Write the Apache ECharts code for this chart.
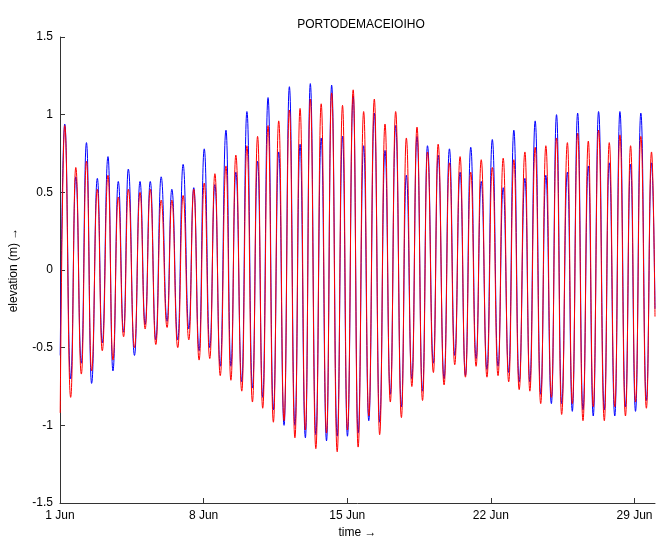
<!DOCTYPE html>
<html>
<head>
<meta charset="utf-8">
<title>PORTODEMACEIOIHO</title>
<script src="https://cdn.jsdelivr.net/npm/echarts@6/dist/echarts.min.js"></script>
<style>
  html, body { margin: 0; padding: 0; background: #fff; }
  #chart { width: 657px; height: 544px; }
</style>
</head>
<body>
<div id="chart"></div>
<script>
// Times in days after 1 Jun 00:00
const highTimes = [0.23, 0.77, 1.29, 1.82, 2.34, 2.84, 3.33, 3.90, 4.40, 4.93, 5.45, 6.00, 6.52, 7.03,
    7.55, 8.09, 8.57, 9.11, 9.63, 10.14, 10.66, 11.18, 11.70, 12.20, 12.73, 13.24, 13.77, 14.29,
    14.80, 15.32, 15.84, 16.36, 16.88, 17.40, 17.91, 18.43, 18.98, 19.50, 20.02, 20.53, 21.07, 21.60,
    22.12, 22.66, 23.16, 23.68, 24.20, 24.73, 25.23, 25.75, 26.25, 26.77, 27.29, 27.81, 28.31, 28.83];
const blueHighs = [0.94, 0.60, 0.82, 0.59, 0.73, 0.57, 0.65, 0.57, 0.57, 0.60, 0.52, 0.68, 0.53, 0.78,
    0.55, 0.90, 0.63, 1.02, 0.70, 1.11, 0.76, 1.18, 0.81, 1.20, 0.85, 1.19, 0.86, 1.12,
    0.80, 1.01, 0.77, 0.93, 0.61, 0.86, 0.80, 0.74, 0.78, 0.63, 0.79, 0.57, 0.84, 0.53,
    0.90, 0.59, 0.96, 0.61, 1.00, 0.63, 1.01, 0.67, 1.02, 0.69, 1.02, 0.68, 1.01, 0.69];
const redHighs = [0.93, 0.66, 0.70, 0.52, 0.61, 0.47, 0.52, 0.50, 0.52, 0.45, 0.45, 0.48, 0.52, 0.56,
    0.62, 0.67, 0.74, 0.80, 0.86, 0.93, 0.96, 1.03, 1.04, 1.10, 1.07, 1.14, 1.06, 1.16,
    1.02, 1.10, 0.94, 1.02, 0.85, 0.92, 0.76, 0.81, 0.69, 0.73, 0.63, 0.71, 0.66, 0.72,
    0.71, 0.76, 0.79, 0.80, 0.85, 0.82, 0.88, 0.83, 0.90, 0.82, 0.87, 0.80, 0.86, 0.76];

const lowTimes = [0.01, 0.52, 1.04, 1.54, 2.06, 2.58, 3.10, 3.63, 4.15, 4.67, 5.22, 5.74, 6.28, 6.78,
    7.30, 7.81, 8.33, 8.86, 9.38, 9.88, 10.40, 10.92, 11.45, 11.96, 12.47, 12.99, 13.51, 14.01,
    14.53, 15.05, 15.58, 16.10, 16.64, 17.15, 17.67, 18.20, 18.72, 19.24, 19.76, 20.28, 20.81, 21.35,
    21.87, 22.38, 22.90, 23.43, 23.95, 24.45, 24.97, 25.49, 25.99, 26.53, 27.04, 27.56, 28.05, 28.58, 29.0];
const blueLows = [-0.55, -0.70, -0.60, -0.73, -0.47, -0.65, -0.40, -0.55, -0.35, -0.45, -0.33, -0.45, -0.38, -0.52,
    -0.50, -0.62, -0.62, -0.72, -0.76, -0.82, -0.90, -1.00, -1.00, -1.08, -1.06, -1.10, -1.07, -1.07,
    -1.05, -0.97, -0.98, -0.80, -0.88, -0.70, -0.78, -0.60, -0.70, -0.55, -0.68, -0.57, -0.64, -0.62,
    -0.66, -0.72, -0.72, -0.80, -0.86, -0.86, -0.91, -0.90, -0.94, -0.90, -0.94, -0.88, -0.91, -0.84, -0.25];
const redLows = [-0.92, -0.82, -0.67, -0.65, -0.52, -0.58, -0.43, -0.50, -0.38, -0.48, -0.37, -0.50, -0.45, -0.58,
    -0.57, -0.68, -0.71, -0.78, -0.85, -0.89, -0.98, -0.97, -1.08, -1.03, -1.15, -1.05, -1.17, -1.03,
    -1.14, -0.94, -1.06, -0.85, -0.95, -0.75, -0.84, -0.66, -0.74, -0.61, -0.69, -0.62, -0.69, -0.68,
    -0.72, -0.77, -0.78, -0.86, -0.82, -0.93, -0.86, -0.97, -0.88, -0.97, -0.88, -0.94, -0.85, -0.89, -0.30];

const yTicks = [-1.5, -1, -0.5, 0, 0.5, 1, 1.5];
const xTickLabels = ['1 Jun', '8 Jun', '15 Jun', '22 Jun', '29 Jun'];

// merge highs and lows into one time-ordered series
function buildSeries(highs, lows) {
    const pts = [];
    highTimes.forEach((t, i) => pts.push([t, highs[i]]));
    lowTimes.forEach((t, i) => pts.push([t, lows[i]]));
    return pts.sort((a, b) => a[0] - b[0]);
}

const chart = echarts.init(document.getElementById('chart'));
const font = 'Liberation Sans, Arial, sans-serif';
const axisColor = '#333';

const tickAxisBase = {
    axisLine: { show: true, onZero: false, lineStyle: { color: axisColor, width: 1 } },
    axisTick: { show: true, inside: true, length: 5, lineStyle: { color: axisColor } },
    splitLine: { show: false }
};

chart.setOption({
    animation: false,
    backgroundColor: '#fff',
    title: {
        text: 'PORTODEMACEIOIHO',
        left: 356,
        top: 14,
        textAlign: 'center',
        textStyle: { fontFamily: font, fontSize: 12, fontWeight: 'normal', color: '#000' }
    },
    grid: { left: 57, right: 2, top: 37, bottom: 36 },
    xAxis: {
        ...tickAxisBase,
        type: 'value',
        min: 0,
        max: 29,
        interval: 7,
        name: 'time →',
        nameLocation: 'middle',
        nameGap: 24,
        nameTextStyle: { fontFamily: font, fontSize: 12, color: '#000' },
        axisLabel: {
            fontFamily: font, fontSize: 12, color: '#000', margin: 7,
            formatter: v => xTickLabels[Math.round(v / 7)] || ''
        }
    },
    yAxis: {
        ...tickAxisBase,
        type: 'value',
        min: yTicks[0],
        max: yTicks[yTicks.length - 1],
        interval: 0.5,
        name: 'elevation (m) →',
        nameLocation: 'middle',
        nameGap: 40,
        nameTextStyle: { fontFamily: font, fontSize: 12, color: '#000' },
        axisLabel: { fontFamily: font, fontSize: 12, color: '#000', margin: 7 }
    },
    series: [{
        name: 'blue',
        type: 'line',
        data: buildSeries(blueHighs, blueLows),
        showSymbol: false,
        smooth: 0.5,
        smoothMonotone: 'x',
        lineStyle: { color: '#0000ff', width: 1 },
        clip: true
    }, {
        name: 'red',
        type: 'line',
        data: buildSeries(redHighs, redLows),
        showSymbol: false,
        smooth: 0.5,
        smoothMonotone: 'x',
        lineStyle: { color: '#ff0000', width: 1 },
        clip: true
    }]
});
</script>
</body>
</html>
